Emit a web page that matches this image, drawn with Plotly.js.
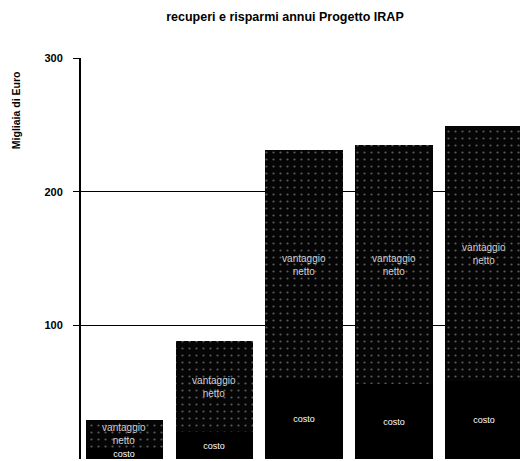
<!DOCTYPE html>
<html>
<head>
<meta charset="utf-8">
<script src="https://cdn.plot.ly/plotly-3.0.1.min.js"></script>
<style>html,body{margin:0;padding:0;background:#fff;}#chart{width:520px;height:461px;}</style>
</head>
<body>
<div id="chart"></div>
<script>
const categories = ["1", "2", "3", "4", "5"];
const costo = [8, 20, 60, 56, 58];
const vantaggio = [21, 68, 171, 179, 191];
const costoLabel = "costo";
const vantaggioLabel = "vantaggio<br>netto";
const yTicks = [100, 200, 300];

const traces = [
  {
    type: "bar", x: categories, y: costo, name: "costo",
    marker: {color: "#000", line: {width: 0}},
    text: categories.map(() => costoLabel), textposition: "inside",
    insidetextanchor: "middle", constraintext: "none",
    textfont: {color: "#fff", size: 9, family: "Liberation Sans, Arial, sans-serif"},
    hoverinfo: "none"
  },
  {
    type: "bar", x: categories, y: vantaggio, name: "vantaggio",
    marker: {color: "#050505", line: {width: 0},
      pattern: {shape: ".", fgcolor: "#5a5a5a", bgcolor: "#050505", size: 7, solidity: 0.08, fillmode: "replace"}},
    text: categories.map(() => vantaggioLabel), textposition: "inside",
    insidetextanchor: "middle", constraintext: "none",
    textfont: {color: "#d0d0d0", size: 10, family: "Liberation Sans, Arial, sans-serif"},
    hoverinfo: "none"
  }
];

const layout = {
  width: 520, height: 461,
  margin: {l: 81, r: 0, t: 58, b: 2, pad: 0},
  paper_bgcolor: "#fff", plot_bgcolor: "#fff",
  barmode: "stack", bargap: 0.144,
  showlegend: false,
  title: {text: "<b>recuperi e risparmi annui Progetto IRAP</b>",
    font: {family: "Liberation Sans, Arial, sans-serif", size: 12.5, color: "#000", weight: "bold"},
    x: 0.548, xref: "container", xanchor: "center", y: 0.965, yanchor: "middle"},
  xaxis: {type: "category", range: [-0.478, 4.4], showticklabels: false,
    showgrid: false, zeroline: false, showline: false, ticks: ""},
  yaxis: {range: [0, 300], tickvals: yTicks,
    showgrid: true, gridcolor: "#000", gridwidth: 1,
    showline: true, linecolor: "#000", linewidth: 2,
    ticks: "outside", ticklen: 6, tickcolor: "#000", tickwidth: 1,
    ticklabelstandoff: 8,
    tickfont: {family: "Liberation Sans, Arial, sans-serif", size: 11, color: "#000", weight: "bold"},
    zeroline: false},
  annotations: [{
    text: "<b>Migliaia di Euro</b>", textangle: -90,
    xref: "paper", yref: "paper", x: -0.148, y: 0.87,
    xanchor: "center", yanchor: "middle", showarrow: false,
    font: {family: "Liberation Sans, Arial, sans-serif", size: 10.5, color: "#000", weight: "bold"}
  }]
};

Plotly.newPlot("chart", traces, layout, {displayModeBar: false, staticPlot: true});
</script>
</body>
</html>
